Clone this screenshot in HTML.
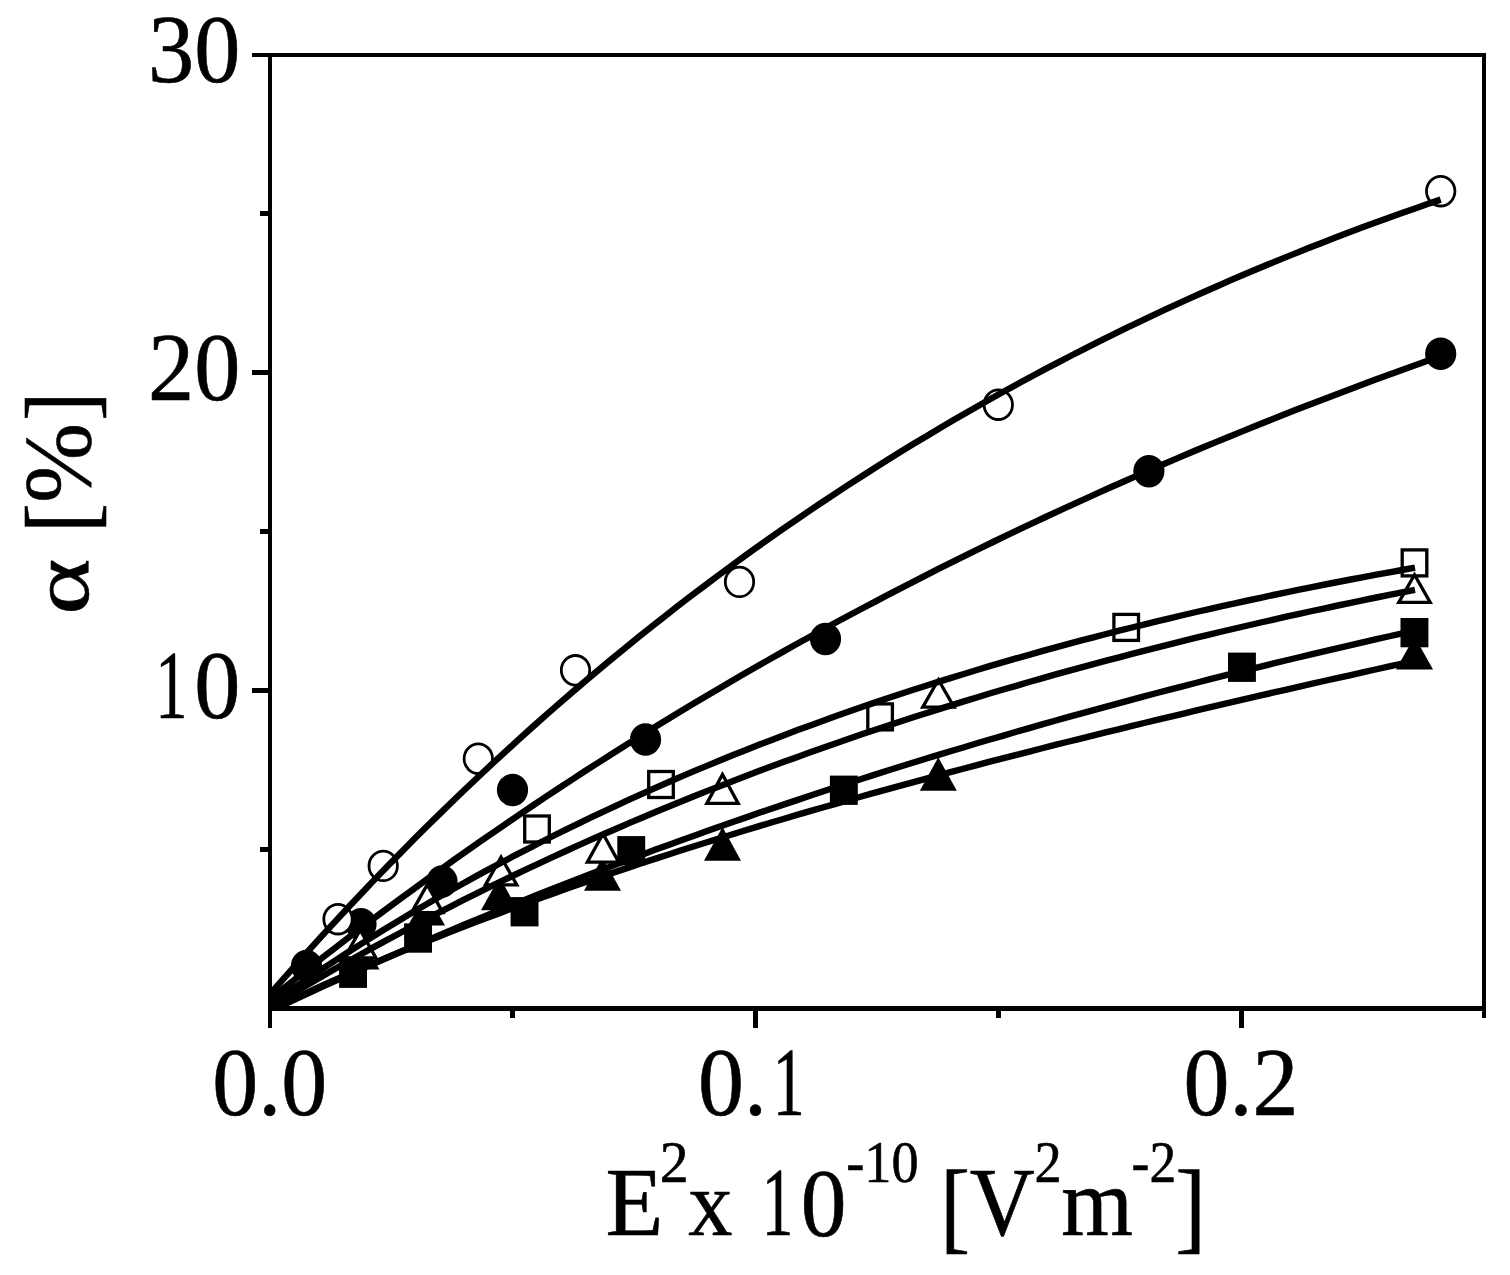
<!DOCTYPE html>
<html lang="en"><head><meta charset="utf-8"><title>Figure</title>
<style>html,body{margin:0;padding:0;background:#fff;}body{width:1510px;height:1275px;overflow:hidden;}svg{display:block;}text{font-family:"Liberation Serif","DejaVu Serif",serif;fill:#000;stroke:#000;stroke-width:0.6px;stroke-linejoin:round;}</style>
</head><body>
<svg width="1510" height="1275" viewBox="0 0 1510 1275">
<rect x="0" y="0" width="1510" height="1275" fill="#fff"/>
<g id="frame" shape-rendering="crispEdges">
<rect x="252.00" y="53.00" width="1234.00" height="4.00" fill="#000"/>
<rect x="268.00" y="53.00" width="4.00" height="974.70" fill="#000"/>
<rect x="1482.00" y="53.00" width="4.00" height="965.00" fill="#000"/>
<rect x="268.00" y="1006.00" width="1218.00" height="5.00" fill="#000"/>
<rect x="260.00" y="211.42" width="10.00" height="5.00" fill="#000"/>
<rect x="252.00" y="370.33" width="18.00" height="5.00" fill="#000"/>
<rect x="260.00" y="529.25" width="10.00" height="5.00" fill="#000"/>
<rect x="252.00" y="688.17" width="18.00" height="5.00" fill="#000"/>
<rect x="260.00" y="847.08" width="10.00" height="5.00" fill="#000"/>
<rect x="510.30" y="1008.00" width="5.00" height="10.00" fill="#000"/>
<rect x="753.10" y="1008.00" width="5.00" height="19.70" fill="#000"/>
<rect x="995.90" y="1008.00" width="5.00" height="10.00" fill="#000"/>
<rect x="1238.70" y="1008.00" width="5.00" height="19.70" fill="#000"/>
</g>
<g id="labels">
<text><tspan x="148.09" y="82.30" font-size="97.80" textLength="92.32" lengthAdjust="spacingAndGlyphs">30</tspan></text>
<text><tspan x="148.09" y="400.10" font-size="97.80" textLength="92.32" lengthAdjust="spacingAndGlyphs">20</tspan></text>
<text><tspan x="155.32" y="718.00" font-size="97.80" textLength="32.24" lengthAdjust="spacingAndGlyphs">1</tspan><tspan x="194.25" y="718.00" font-size="97.80" textLength="46.16" lengthAdjust="spacingAndGlyphs">0</tspan></text>
<text><tspan x="212.34" y="1114.60" font-size="97.80" textLength="114.91" lengthAdjust="spacingAndGlyphs">0.0</tspan></text>
<text><tspan x="697.94" y="1114.60" font-size="97.80" textLength="68.95" lengthAdjust="spacingAndGlyphs">0.</tspan><tspan x="772.67" y="1114.60" font-size="97.80" textLength="31.96" lengthAdjust="spacingAndGlyphs">1</tspan></text>
<text><tspan x="1183.54" y="1114.60" font-size="97.80" textLength="114.91" lengthAdjust="spacingAndGlyphs">0.2</tspan></text>
<text><tspan x="605.55" y="1235.00" font-size="97.00" textLength="57.87" lengthAdjust="spacingAndGlyphs">E</tspan><tspan x="659.75" y="1181.90" font-size="58.30" textLength="28.93" lengthAdjust="spacingAndGlyphs">2</tspan><tspan x="688.31" y="1235.00" font-size="94.00" textLength="44.15" lengthAdjust="spacingAndGlyphs">x</tspan> <tspan x="761.65" y="1235.00" font-size="97.80" textLength="31.53" lengthAdjust="spacingAndGlyphs">1</tspan><tspan x="800.82" y="1236.00" font-size="97.80" textLength="45.75" lengthAdjust="spacingAndGlyphs">0</tspan><tspan x="846.29" y="1182.40" font-size="58.30" textLength="72.37" lengthAdjust="spacingAndGlyphs">-10</tspan> <tspan x="940.26" y="1240.47" font-size="101.00" textLength="29.87" lengthAdjust="spacingAndGlyphs">[</tspan><tspan x="969.71" y="1235.00" font-size="97.00" textLength="65.00" lengthAdjust="spacingAndGlyphs">V</tspan><tspan x="1034.51" y="1181.90" font-size="58.30" textLength="27.18" lengthAdjust="spacingAndGlyphs">2</tspan><tspan x="1061.36" y="1235.00" font-size="97.00" textLength="71.80" lengthAdjust="spacingAndGlyphs">m</tspan><tspan x="1131.62" y="1181.90" font-size="58.30" textLength="44.63" lengthAdjust="spacingAndGlyphs">-2</tspan><tspan x="1175.27" y="1240.47" font-size="101.00" textLength="30.76" lengthAdjust="spacingAndGlyphs">]</tspan></text>
</g>
<g id="ylabel">
<text transform="rotate(-90)"><tspan x="-614.78" y="88.49" font-size="80.95" textLength="56.24" lengthAdjust="spacingAndGlyphs">α</tspan> <tspan x="-533.07" y="93.00" font-size="96.60" textLength="30.02" lengthAdjust="spacingAndGlyphs">[</tspan><tspan x="-502.96" y="89.50" font-size="94.40" textLength="79.93" lengthAdjust="spacingAndGlyphs">%</tspan><tspan x="-420.83" y="93.00" font-size="96.60" textLength="28.97" lengthAdjust="spacingAndGlyphs">]</tspan></text>
</g>
<g id="markers" stroke="#000" stroke-width="3.3" stroke-linejoin="miter">
<rect x="339.1" y="958.6" width="27.9" height="29.3" fill="#000" stroke="none"/>
<rect x="404.1" y="923.4" width="27.9" height="29.3" fill="#000" stroke="none"/>
<rect x="510.6" y="897.1" width="27.9" height="29.3" fill="#000" stroke="none"/>
<rect x="617.3" y="836.1" width="27.9" height="29.3" fill="#000" stroke="none"/>
<rect x="829.9" y="775.6" width="27.9" height="29.3" fill="#000" stroke="none"/>
<rect x="1228.0" y="652.6" width="27.9" height="29.3" fill="#000" stroke="none"/>
<rect x="1400.5" y="618.0" width="27.9" height="29.3" fill="#000" stroke="none"/>
<polygon points="361.0,937.0 379.5,969.6 342.5,969.6" fill="#000" stroke="none"/>
<polygon points="426.5,892.5 445.0,925.5 408.0,925.5" fill="#000" stroke="none"/>
<polygon points="499.5,877.0 518.0,910.2 481.0,910.2" fill="#000" stroke="none"/>
<polygon points="602.5,857.2 621.0,890.7 584.0,890.7" fill="#000" stroke="none"/>
<polygon points="722.5,827.0 741.0,860.8 704.0,860.8" fill="#000" stroke="none"/>
<polygon points="938.3,757.3 956.8,790.7 919.8,790.7" fill="#000" stroke="none"/>
<polygon points="1414.5,636.5 1433.0,669.6 1396.0,669.6" fill="#000" stroke="none"/>
<ellipse cx="306.5" cy="965.9" rx="15.6" ry="16.2" fill="#000" stroke="none"/>
<ellipse cx="361.0" cy="924.2" rx="15.6" ry="16.2" fill="#000" stroke="none"/>
<ellipse cx="442.0" cy="881.5" rx="15.6" ry="16.2" fill="#000" stroke="none"/>
<ellipse cx="512.5" cy="790.0" rx="15.6" ry="16.2" fill="#000" stroke="none"/>
<ellipse cx="645.5" cy="739.5" rx="15.6" ry="16.2" fill="#000" stroke="none"/>
<ellipse cx="825.5" cy="639.0" rx="15.6" ry="16.2" fill="#000" stroke="none"/>
<ellipse cx="1148.9" cy="471.3" rx="15.6" ry="16.2" fill="#000" stroke="none"/>
<ellipse cx="1440.7" cy="353.7" rx="15.6" ry="16.2" fill="#000" stroke="none"/>
<rect x="524.7" y="816.0" width="24.6" height="26.0" fill="#fff"/>
<rect x="648.7" y="771.5" width="24.6" height="26.0" fill="#fff"/>
<rect x="867.8" y="703.9" width="24.6" height="26.0" fill="#fff"/>
<rect x="1113.9" y="614.4" width="24.6" height="26.0" fill="#fff"/>
<rect x="1402.2" y="549.9" width="24.6" height="26.0" fill="#fff"/>
<polygon points="360.2,929.9 375.9,957.9 344.5,957.9" fill="#fff"/>
<polygon points="427.2,884.6 442.9,912.6 411.5,912.6" fill="#fff"/>
<polygon points="501.1,857.2 516.8,884.9 485.4,884.9" fill="#fff"/>
<polygon points="603.0,833.8 618.7,862.1 587.3,862.1" fill="#fff"/>
<polygon points="722.5,774.5 738.2,803.4 706.8,803.4" fill="#fff"/>
<polygon points="938.4,679.8 954.1,707.1 922.7,707.1" fill="#fff"/>
<polygon points="1414.5,574.8 1430.2,602.4 1398.8,602.4" fill="#fff"/>
<ellipse cx="338.0" cy="919.2" rx="14.2" ry="14.8" fill="#fff" stroke-width="2.8"/>
<ellipse cx="383.2" cy="865.9" rx="14.2" ry="14.8" fill="#fff" stroke-width="2.8"/>
<ellipse cx="478.3" cy="758.7" rx="14.2" ry="14.8" fill="#fff" stroke-width="2.8"/>
<ellipse cx="575.5" cy="670.3" rx="14.2" ry="14.8" fill="#fff" stroke-width="2.8"/>
<ellipse cx="739.5" cy="581.9" rx="14.2" ry="14.8" fill="#fff" stroke-width="2.8"/>
<ellipse cx="998.3" cy="404.7" rx="14.2" ry="14.8" fill="#fff" stroke-width="2.8"/>
<ellipse cx="1440.7" cy="191.2" rx="14.2" ry="14.8" fill="#fff" stroke-width="2.8"/>
</g>
<g id="curves" fill="none" stroke="#000" stroke-width="6.40" stroke-linejoin="round" stroke-linecap="butt">
<path d="M270.0,994.2 L283.2,979.2 L296.3,964.3 L309.5,949.6 L322.6,935.1 L335.8,920.8 L348.9,906.7 L362.1,892.7 L375.2,878.9 L388.4,865.3 L401.5,851.9 L414.7,838.6 L427.8,825.5 L441.0,812.6 L454.2,799.8 L467.3,787.2 L480.5,774.7 L493.6,762.5 L506.8,750.3 L519.9,738.4 L533.1,726.5 L546.2,714.9 L559.4,703.3 L572.5,692.0 L585.7,680.7 L598.8,669.7 L612.0,658.7 L625.2,647.9 L638.3,637.3 L651.5,626.8 L664.6,616.4 L677.8,606.1 L690.9,596.0 L704.1,586.1 L717.2,576.2 L730.4,566.5 L743.5,556.9 L756.7,547.4 L769.8,538.1 L783.0,528.9 L796.2,519.8 L809.3,510.8 L822.5,502.0 L835.6,493.3 L848.8,484.6 L861.9,476.2 L875.1,467.8 L888.2,459.5 L901.4,451.3 L914.5,443.3 L927.7,435.4 L940.9,427.5 L954.0,419.8 L967.2,412.2 L980.3,404.7 L993.5,397.3 L1006.6,390.0 L1019.8,382.8 L1032.9,375.7 L1046.1,368.7 L1059.2,361.8 L1072.4,355.0 L1085.5,348.3 L1098.7,341.6 L1111.9,335.1 L1125.0,328.7 L1138.2,322.3 L1151.3,316.1 L1164.5,309.9 L1177.6,303.9 L1190.8,297.9 L1203.9,292.0 L1217.1,286.2 L1230.2,280.4 L1243.4,274.8 L1256.5,269.2 L1269.7,263.8 L1282.9,258.4 L1296.0,253.1 L1309.2,247.8 L1322.3,242.7 L1335.5,237.6 L1348.6,232.6 L1361.8,227.6 L1374.9,222.8 L1388.1,218.0 L1401.2,213.3 L1414.4,208.7 L1427.5,204.1 L1440.7,199.6"/>
<path d="M270.0,999.4 L283.1,988.8 L296.3,978.3 L309.4,967.9 L322.6,957.6 L335.7,947.4 L348.9,937.3 L362.0,927.3 L375.2,917.4 L388.3,907.6 L401.5,897.9 L414.6,888.3 L427.8,878.7 L440.9,869.3 L454.0,859.9 L467.2,850.6 L480.3,841.4 L493.5,832.3 L506.6,823.3 L519.8,814.3 L532.9,805.5 L546.1,796.7 L559.2,788.0 L572.4,779.4 L585.5,770.8 L598.7,762.4 L611.8,754.0 L624.9,745.7 L638.1,737.5 L651.2,729.3 L664.4,721.2 L677.5,713.2 L690.7,705.3 L703.8,697.5 L717.0,689.7 L730.1,682.0 L743.3,674.3 L756.4,666.8 L769.6,659.3 L782.7,651.9 L795.8,644.5 L809.0,637.2 L822.1,630.0 L835.3,622.8 L848.4,615.8 L861.6,608.7 L874.7,601.8 L887.9,594.9 L901.0,588.1 L914.2,581.3 L927.3,574.6 L940.4,567.9 L953.6,561.4 L966.7,554.8 L979.9,548.4 L993.0,542.0 L1006.2,535.7 L1019.3,529.4 L1032.5,523.2 L1045.6,517.0 L1058.8,510.9 L1071.9,504.8 L1085.1,498.8 L1098.2,492.9 L1111.3,487.0 L1124.5,481.2 L1137.6,475.4 L1150.8,469.7 L1163.9,464.0 L1177.1,458.4 L1190.2,452.8 L1203.4,447.3 L1216.5,441.9 L1229.7,436.5 L1242.8,431.1 L1256.0,425.8 L1269.1,420.5 L1282.2,415.3 L1295.4,410.1 L1308.5,405.0 L1321.7,400.0 L1334.8,394.9 L1348.0,390.0 L1361.1,385.0 L1374.3,380.1 L1387.4,375.3 L1400.6,370.5 L1413.7,365.8 L1426.9,361.1 L1440.0,356.4"/>
<path d="M270.0,1004.5 L282.9,995.6 L295.7,986.7 L308.6,978.0 L321.5,969.5 L334.3,961.1 L347.2,952.8 L360.1,944.6 L372.9,936.5 L385.8,928.6 L398.7,920.8 L411.5,913.1 L424.4,905.6 L437.2,898.1 L450.1,890.8 L463.0,883.5 L475.8,876.4 L488.7,869.4 L501.6,862.5 L514.4,855.7 L527.3,849.1 L540.2,842.5 L553.0,836.0 L565.9,829.6 L578.8,823.3 L591.6,817.1 L604.5,811.1 L617.4,805.1 L630.2,799.1 L643.1,793.3 L656.0,787.6 L668.8,782.0 L681.7,776.4 L694.6,770.9 L707.4,765.6 L720.3,760.3 L733.1,755.0 L746.0,749.9 L758.9,744.8 L771.7,739.9 L784.6,734.9 L797.5,730.1 L810.3,725.4 L823.2,720.7 L836.1,716.1 L848.9,711.5 L861.8,707.0 L874.7,702.6 L887.5,698.3 L900.4,694.0 L913.3,689.8 L926.1,685.7 L939.0,681.6 L951.9,677.6 L964.7,673.7 L977.6,669.8 L990.4,665.9 L1003.3,662.2 L1016.2,658.4 L1029.0,654.8 L1041.9,651.2 L1054.8,647.6 L1067.6,644.1 L1080.5,640.7 L1093.4,637.3 L1106.2,634.0 L1119.1,630.7 L1132.0,627.5 L1144.8,624.3 L1157.7,621.2 L1170.6,618.1 L1183.4,615.0 L1196.3,612.0 L1209.2,609.1 L1222.0,606.2 L1234.9,603.3 L1247.8,600.5 L1260.6,597.8 L1273.5,595.0 L1286.3,592.4 L1299.2,589.7 L1312.1,587.1 L1324.9,584.5 L1337.8,582.0 L1350.7,579.5 L1363.5,577.1 L1376.4,574.7 L1389.3,572.3 L1402.1,570.0 L1415.0,567.7"/>
<path d="M270.0,1007.3 L282.9,999.5 L295.7,991.8 L308.6,984.2 L321.5,976.7 L334.3,969.3 L347.2,962.0 L360.1,954.8 L372.9,947.6 L385.8,940.6 L398.7,933.7 L411.5,926.8 L424.4,920.0 L437.2,913.4 L450.1,906.8 L463.0,900.2 L475.8,893.8 L488.7,887.4 L501.6,881.2 L514.4,875.0 L527.3,868.9 L540.2,862.8 L553.0,856.9 L565.9,851.0 L578.8,845.2 L591.6,839.4 L604.5,833.8 L617.4,828.2 L630.2,822.6 L643.1,817.2 L656.0,811.8 L668.8,806.5 L681.7,801.2 L694.6,796.0 L707.4,790.9 L720.3,785.9 L733.1,780.9 L746.0,776.0 L758.9,771.1 L771.7,766.3 L784.6,761.6 L797.5,756.9 L810.3,752.3 L823.2,747.7 L836.1,743.2 L848.9,738.7 L861.8,734.3 L874.7,730.0 L887.5,725.7 L900.4,721.5 L913.3,717.3 L926.1,713.2 L939.0,709.1 L951.9,705.1 L964.7,701.1 L977.6,697.2 L990.4,693.3 L1003.3,689.5 L1016.2,685.8 L1029.0,682.0 L1041.9,678.4 L1054.8,674.7 L1067.6,671.1 L1080.5,667.6 L1093.4,664.1 L1106.2,660.7 L1119.1,657.3 L1132.0,653.9 L1144.8,650.6 L1157.7,647.3 L1170.6,644.1 L1183.4,640.9 L1196.3,637.7 L1209.2,634.6 L1222.0,631.5 L1234.9,628.5 L1247.8,625.5 L1260.6,622.5 L1273.5,619.6 L1286.3,616.7 L1299.2,613.9 L1312.1,611.0 L1324.9,608.3 L1337.8,605.5 L1350.7,602.8 L1363.5,600.1 L1376.4,597.5 L1389.3,594.9 L1402.1,592.3 L1415.0,589.8"/>
<path d="M270.0,1008.5 L282.9,1005.1 L295.7,999.1 L308.6,993.1 L321.4,987.2 L334.3,981.3 L347.1,975.5 L360.0,969.7 L372.8,964.0 L385.7,958.3 L398.5,952.7 L411.4,947.1 L424.2,941.6 L437.1,936.1 L450.0,930.6 L462.8,925.2 L475.7,919.9 L488.5,914.6 L501.4,909.3 L514.2,904.1 L527.1,899.0 L539.9,893.8 L552.8,888.8 L565.6,883.7 L578.5,878.7 L591.3,873.8 L604.2,868.9 L617.1,864.0 L629.9,859.2 L642.8,854.4 L655.6,849.6 L668.5,844.9 L681.3,840.3 L694.2,835.7 L707.0,831.1 L719.9,826.5 L732.7,822.0 L745.6,817.6 L758.4,813.1 L771.3,808.7 L784.2,804.4 L797.0,800.1 L809.9,795.8 L822.7,791.5 L835.6,787.3 L848.4,783.1 L861.3,779.0 L874.1,774.9 L887.0,770.8 L899.8,766.8 L912.7,762.8 L925.6,758.8 L938.4,754.9 L951.3,751.0 L964.1,747.2 L977.0,743.3 L989.8,739.5 L1002.7,735.8 L1015.5,732.0 L1028.4,728.3 L1041.2,724.6 L1054.1,721.0 L1066.9,717.4 L1079.8,713.8 L1092.7,710.3 L1105.5,706.8 L1118.4,703.3 L1131.2,699.8 L1144.1,696.4 L1156.9,693.0 L1169.8,689.6 L1182.6,686.3 L1195.5,683.0 L1208.3,679.7 L1221.2,676.4 L1234.0,673.2 L1246.9,670.0 L1259.8,666.8 L1272.6,663.7 L1285.5,660.5 L1298.3,657.5 L1311.2,654.4 L1324.0,651.3 L1336.9,648.3 L1349.7,645.3 L1362.6,642.4 L1375.4,639.4 L1388.3,636.5 L1401.1,633.6 L1414.0,630.8"/>
<path d="M270.0,1008.5 L282.9,1003.7 L295.7,997.8 L308.6,991.9 L321.4,986.0 L334.3,980.3 L347.1,974.7 L360.0,969.1 L372.8,963.6 L385.7,958.2 L398.5,952.8 L411.4,947.5 L424.2,942.3 L437.1,937.2 L450.0,932.1 L462.8,927.1 L475.7,922.1 L488.5,917.2 L501.4,912.4 L514.2,907.6 L527.1,902.9 L539.9,898.3 L552.8,893.7 L565.6,889.1 L578.5,884.6 L591.3,880.2 L604.2,875.8 L617.1,871.4 L629.9,867.1 L642.8,862.8 L655.6,858.6 L668.5,854.5 L681.3,850.3 L694.2,846.2 L707.0,842.2 L719.9,838.2 L732.7,834.2 L745.6,830.3 L758.4,826.4 L771.3,822.5 L784.2,818.7 L797.0,814.9 L809.9,811.2 L822.7,807.5 L835.6,803.8 L848.4,800.1 L861.3,796.5 L874.1,792.9 L887.0,789.3 L899.8,785.8 L912.7,782.3 L925.6,778.8 L938.4,775.3 L951.3,771.9 L964.1,768.5 L977.0,765.1 L989.8,761.7 L1002.7,758.4 L1015.5,755.1 L1028.4,751.8 L1041.2,748.5 L1054.1,745.2 L1066.9,742.0 L1079.8,738.8 L1092.7,735.6 L1105.5,732.4 L1118.4,729.3 L1131.2,726.1 L1144.1,723.0 L1156.9,719.9 L1169.8,716.8 L1182.6,713.8 L1195.5,710.7 L1208.3,707.7 L1221.2,704.7 L1234.0,701.7 L1246.9,698.7 L1259.8,695.7 L1272.6,692.7 L1285.5,689.8 L1298.3,686.9 L1311.2,683.9 L1324.0,681.0 L1336.9,678.1 L1349.7,675.3 L1362.6,672.4 L1375.4,669.5 L1388.3,666.7 L1401.1,663.8 L1414.0,661.0"/>
</g>
</svg>
</body></html>
